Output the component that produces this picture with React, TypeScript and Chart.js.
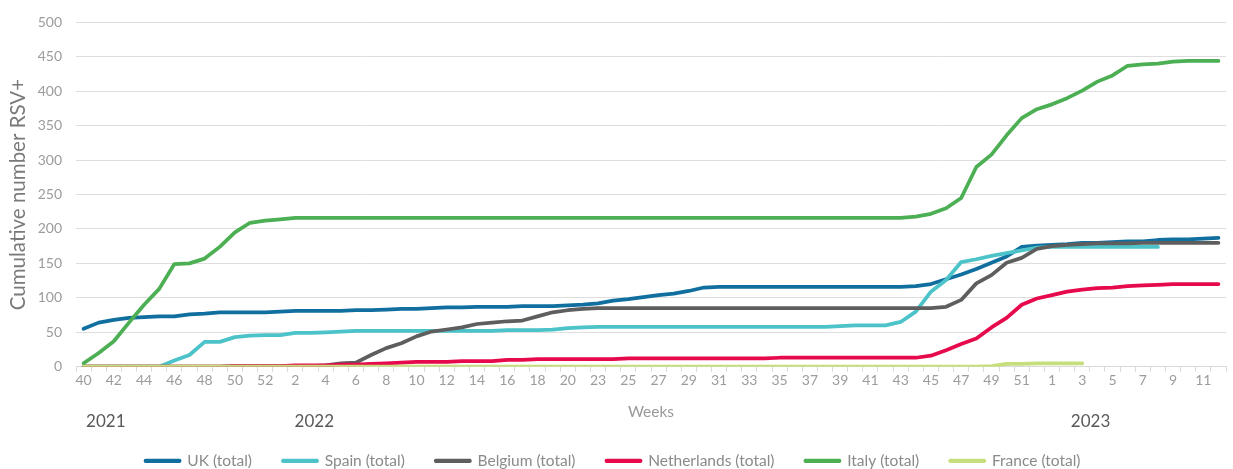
import { useEffect, useRef } from 'react';
import { Chart, registerables } from 'chart.js';

Chart.register(...registerables);

// Week categories: 2021 w40-52, 2022 w1-21 & w23-52, 2023 w1-12
const weeks = [
  '40', '41', '42', '43', '44', '45', '46', '47', '48', '49', '50', '51', '52',
  '1', '2', '3', '4', '5', '6', '7', '8', '9', '10', '11', '12', '13', '14', '15', '16', '17', '18', '19', '20', '21',
  '23', '24', '25', '26', '27', '28', '29', '30', '31', '32', '33', '34', '35', '36', '37', '38', '39', '40', '41', '42',
  '43', '44', '45', '46', '47', '48', '49', '50', '51', '52',
  '1', '2', '3', '4', '5', '6', '7', '8', '9', '10', '11', '12',
];

const years = ['2021', '2022', '2023'];

const ukTotal = [
  55, 64, 68, 71, 72, 73, 73, 76, 77, 79, 79, 79, 79, 80, 81,
  81, 81, 81, 82, 82, 83, 84, 84, 85, 86, 86, 87, 87, 87, 88, 88, 88, 89, 90,
  92, 96, 98, 101, 104, 106, 110, 115, 116,
  116, 116, 116, 116, 116, 116, 116, 116, 116, 116, 116, 116,
  117, 120, 127, 134, 142, 151, 160, 174, 176, 177, 178, 180, 180, 181, 182, 182, 184, 185, 185, 186, 187,
];

const spainTotal = [
  0, 0, 0, 0, 0, 0,
  9, 17, 36, 36, 43, 45, 46, 46, 49, 49,
  50, 51, 52, 52, 52, 52, 52, 52, 52, 52, 52, 52, 53, 53, 53, 54, 56, 57,
  58, 58, 58, 58, 58, 58, 58, 58, 58, 58, 58, 58, 58, 58, 58, 58,
  59, 60, 60, 60, 65, 80, 109, 126, 152, 156, 161, 165, 169, 173,
  174, 174, 174, 174, 174, 174, 174, 174,
  null, null, null, null,
];

const belgiumTotal = [
  0, 0, 0, 0, 0, 0, 0, 0, 0, 0, 1, 1, 1, 1, 1, 1,
  2, 5, 6, 17, 27, 34, 44, 51, 54, 57, 62, 64, 66, 67, 73, 79, 82, 84,
  85, 85, 85, 85, 85, 85, 85, 85, 85, 85, 85, 85, 85, 85, 85, 85, 85, 85, 85, 85, 85, 85, 85,
  87, 97, 121, 133, 151, 158, 171, 175, 177, 178, 179, 179, 179, 180, 180, 180, 180, 180, 180,
];

const netherlandsTotal = [
  0, 0, 0, 0, 0, 0, 0, 0, 0, 0,
  1, 1, 1, 1, 2, 2, 2, 3, 3, 4, 5, 6, 7, 7, 7, 8, 8, 8, 10, 10, 11, 11, 11, 11, 11, 11,
  12, 12, 12, 12, 12, 12, 12, 12, 12, 12,
  13, 13, 13, 13, 13, 13, 13, 13, 13, 13,
  16, 24, 33, 41, 57, 71, 90, 99, 104, 109, 112, 114, 115, 117, 118, 119, 120, 120, 120, 120,
];

const italyTotal = [
  5, 20, 37, 64, 90, 113, 149, 150, 157, 174, 195, 209, 212, 214, 216,
  216, 216, 216, 216, 216, 216, 216, 216, 216, 216, 216, 216, 216, 216, 216, 216, 216, 216, 216, 216,
  216, 216, 216, 216, 216, 216, 216, 216, 216, 216, 216, 216, 216, 216, 216, 216, 216, 216, 216, 216,
  218, 222, 230, 245, 290, 308, 336, 361, 374, 381, 390, 401, 414, 423, 437, 439, 440, 443, 444, 444, 444,
];

const franceTotal = [
  0, 0, 0, 0, 0, 0, 0, 0, 0, 0, 0, 0, 0, 0, 0, 0, 0, 0, 0, 0,
  0, 0, 0, 0, 0, 0, 0, 0, 0, 0, 0, 0, 0, 0, 0, 0, 0, 0, 0, 0,
  0, 0, 0, 0, 0, 0, 0, 0, 0, 0, 0, 0, 0, 0, 0, 0, 0, 0, 0, 0,
  1, 4, 4, 5, 5, 5, 5,
  null, null, null, null, null, null, null, null, null,
];

const yTicks = [0, 50, 100, 150, 200, 250, 300, 350, 400, 450, 500];

const FONT = 'Lato, "Open Sans", "DejaVu Sans", sans-serif';

export default function App() {
  const ref = useRef<HTMLCanvasElement | null>(null);

  useEffect(() => {
    document.body.style.margin = '0';
    const canvas = ref.current;
    if (!canvas) return;

    const yearPos = [1.47, 15.25, 66.55];
    const yearPlugin = {
      id: 'yearLabels',
      afterDraw(chart: any) {
        const { ctx } = chart;
        const x = chart.scales.x;
        ctx.save();
        ctx.font = `17px ${FONT}`;
        ctx.fillStyle = '#595959';
        ctx.textAlign = 'center';
        ctx.textBaseline = 'middle';
        years.forEach((t, k) => {
          ctx.fillText(t, x.getPixelForValue(yearPos[k]), 421.5);
        });
        ctx.restore();
      },
    };

    const mk = (label: string, data: (number | null)[], color: string, order: number) => ({
      label,
      data,
      borderColor: color,
      backgroundColor: color,
      borderWidth: 3.75,
      pointRadius: 0,
      pointHoverRadius: 0,
      tension: 0,
      borderCapStyle: 'round' as const,
      borderJoinStyle: 'round' as const,
      fill: false,
      order,
    });

    const chart = new Chart(canvas, {
      type: 'line',
      data: {
        labels: weeks,
        datasets: [
          mk('UK (total)', ukTotal, '#106f9f', 6),
          mk('Spain (total)', spainTotal, '#4cc3c8', 5),
          mk('Belgium (total)', belgiumTotal, '#5e5e5e', 4),
          mk('Netherlands (total)', netherlandsTotal, '#e6094c', 3),
          mk('Italy (total)', italyTotal, '#4caf54', 2),
          mk('France (total)', franceTotal, '#c6df7c', 1),
        ],
      },
      options: {
        animation: false,
        responsive: false,
        devicePixelRatio: 1,
        layout: { padding: { top: 19, right: 7, bottom: -9.5, left: 0 } },
        scales: {
          x: {
            type: 'category',
            offset: true,
            grid: {
              display: true,
              drawOnChartArea: false,
              drawTicks: true,
              tickLength: 5,
              color: '#d9d9d9',
              offset: true,
            },
            border: { display: true, color: '#d9d9d9', width: 1 },
            ticks: {
              autoSkip: false,
              maxRotation: 0,
              padding: 0,
              color: '#9c9c9c',
              font: { family: FONT, size: 14 },
              callback: function (this: any, val: any, index: number) {
                return index % 2 === 0 ? this.getLabelForValue(val) : '';
              },
            },
            title: {
              display: true,
              text: 'Weeks',
              color: '#9a9a9a',
              font: { family: FONT, size: 15.5 },
              padding: { top: 0, bottom: 1 },
            },
            afterFit: (s: any) => {
              s.height = 55.3;
            },
          },
          y: {
            min: 0,
            max: 500,
            afterBuildTicks: (s: any) => {
              s.ticks = yTicks.map((v) => ({ value: v }));
            },
            ticks: {
              padding: 14,
              color: '#9c9c9c',
              font: { family: FONT, size: 14 },
            },
            grid: { color: '#dedede', drawTicks: false, lineWidth: 1 },
            border: { display: false },
            title: {
              display: true,
              text: 'Cumulative number RSV+',
              color: '#7a7a7a',
              font: { family: FONT, size: 20.5 },
              padding: { top: 6, bottom: 0 },
            },
            afterFit: (s: any) => {
              s.width = 76;
            },
          },
        },
        plugins: {
          legend: {
            display: true,
            position: 'bottom',
            labels: {
              boxWidth: 34,
              boxHeight: 0.5,
              padding: 31,
              color: '#8a8a8a',
              font: { family: FONT, size: 15.5 },
              sort: (a: any, b: any) => a.datasetIndex - b.datasetIndex,
            },
          },
          tooltip: { enabled: false },
        },
      },
      plugins: [yearPlugin],
    } as any);

    return () => chart.destroy();
  }, []);

  return (
    <div style={{ width: 1233, height: 469 }}>
      <canvas ref={ref} width={1233} height={469} style={{ display: 'block' }} />
    </div>
  );
}
